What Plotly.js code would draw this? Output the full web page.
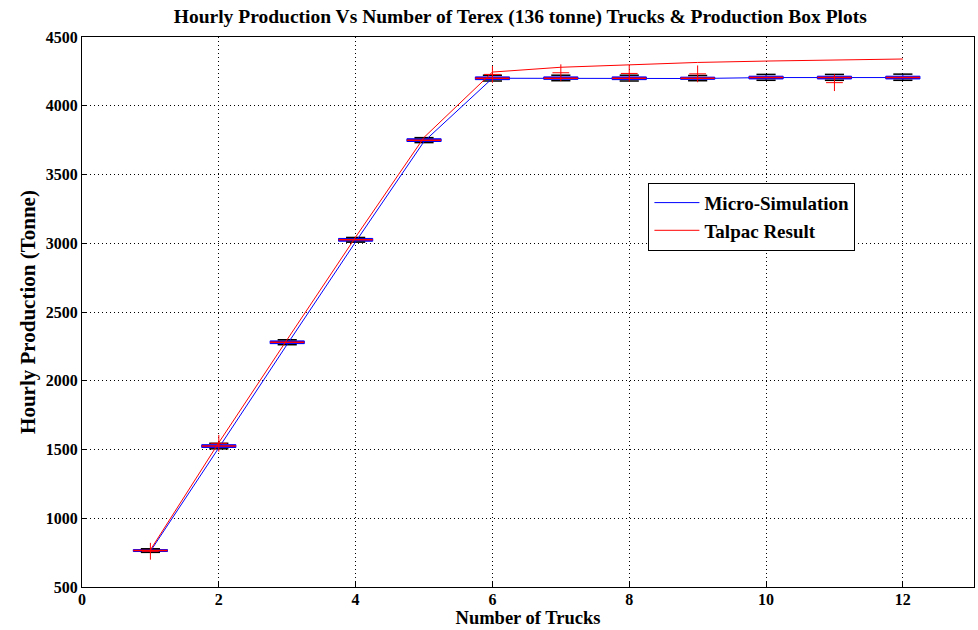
<!DOCTYPE html>
<html>
<head>
<meta charset="utf-8">
<script src="https://cdn.plot.ly/plotly-3.0.1.min.js"></script>
<style>html,body{margin:0;padding:0;background:#fff;}#chart{width:978px;height:630px;}</style>
</head>
<body>
<div id="chart"></div>
<script>
// ---- data ----
const trucks = [1,2,3,4,5,6,7,8,9,10,11,12];
const microSim = [760,1515,2265,3010,3740,4200,4198,4200,4198,4205,4205,4205];
const talpac = [770,1550,2300,3045,3770,4245,4280,4300,4315,4325,4335,4340];
const boxMedian = [765,1525,2280,3025,3750,4200,4200,4200,4200,4205,4205,4205];
const boxQ1 = [758,1515,2270,3015,3740,4190,4192,4190,4192,4195,4195,4195];
const boxQ3 = [772,1535,2290,3035,3760,4210,4210,4210,4208,4215,4215,4215];
const whiskerLow = [752,1505,2262,3008,3732,4180,4182,4180,4182,4185,4185,4185];
const whiskerHigh = [778,1545,2298,3042,3768,4222,4222,4222,4220,4228,4228,4230];
const outlierX = [1,2,6,7,8,9,11];
const outlierY = [760,1545,4228,4240,4235,4232,4168];
const xTicks = [0,2,4,6,8,10,12];
const yTicks = [500,1000,1500,2000,2500,3000,3500,4000,4500];

// ---- helpers building segments from data ----
function segs(xs, ys, half){
  const sx=[], sy=[];
  xs.forEach((x,i)=>{ sx.push(x-half, x+half, null); sy.push(ys[i], ys[i], null); });
  return {x:sx, y:sy};
}
const capLo = segs(trucks, whiskerLow, 0.14);
const capHi = segs(trucks, whiskerHigh, 0.14);
const caps = {x: capLo.x.concat(capHi.x), y: capLo.y.concat(capHi.y)};
const med = segs(trucks, boxMedian, 0.25);

const serif = 'Liberation Serif, Times New Roman, serif';

const traces = [
  {type:'box', x:trucks, q1:boxQ1, median:boxMedian, q3:boxQ3,
   lowerfence:whiskerLow, upperfence:whiskerHigh, width:0.5, whiskerwidth:0,
   line:{color:'#0000ff', width:1}, fillcolor:'#0000ff', boxpoints:false,
   showlegend:false, hoverinfo:'skip'},
  {type:'scatter', mode:'lines', x:caps.x, y:caps.y, line:{color:'#000000', width:1.5},
   showlegend:false, hoverinfo:'skip'},
  {type:'scatter', mode:'lines', x:trucks, y:microSim, name:'Micro-Simulation',
   line:{color:'#0000ff', width:1}},
  {type:'scatter', mode:'lines', x:trucks, y:talpac, name:'Talpac Result',
   line:{color:'#ff0000', width:1}},
  {type:'scatter', mode:'lines', x:med.x, y:med.y, line:{color:'#ff0000', width:1.5},
   showlegend:false, hoverinfo:'skip'},
  {type:'scatter', mode:'markers', x:outlierX, y:outlierY,
   marker:{symbol:'cross-thin', size:12, line:{color:'#ff0000', width:1}, color:'#ff0000'},
   showlegend:false, hoverinfo:'skip'}
];

const axisCommon = {
  showline:true, mirror:true, linecolor:'#000', linewidth:1,
  ticks:'inside', ticklen:5, tickcolor:'#000',
  showgrid:true, gridcolor:'#000', griddash:'1px,3px', gridwidth:1,
  zeroline:false, tickfont:{family:serif, size:16, color:'#000', weight:'bold'}
};

const layout = {
  width:978, height:630,
  margin:{l:82, r:4, t:37, b:43},
  paper_bgcolor:'#fff', plot_bgcolor:'#fff',
  title:{text:'Hourly Production Vs Number of Terex (136 tonne) Trucks &amp; Production Box Plots',
    font:{family:serif, size:19.5, color:'#000', weight:'bold'}, x:0.532, xanchor:'center', y:0.974, yanchor:'middle'},
  xaxis:Object.assign({}, axisCommon, {range:[0,13.04], tickvals:xTicks, ticktext:xTicks.map(String),
    ticklabelstandoff:-2,
    title:{text:'Number of Trucks', font:{family:serif, size:18.5, color:'#000', weight:'bold'}, standoff:2}}),
  yaxis:Object.assign({}, axisCommon, {range:[500,4500], tickvals:yTicks, ticktext:yTicks.map(String),
    title:{text:'Hourly Production (Tonne)', font:{family:serif, size:21, color:'#000', weight:'bold'}, standoff:4}}),
  showlegend:true,
  legend:{x:0.635, y:0.735, xanchor:'left', yanchor:'top', bgcolor:'#fff', bordercolor:'#000', borderwidth:1,
    font:{family:serif, size:19, color:'#000', weight:'bold'}, tracegroupgap:0, itemwidth:45},
  boxmode:'overlay'
};

Plotly.newPlot('chart', traces, layout, {displayModeBar:false, staticPlot:true});
</script>
</body>
</html>
